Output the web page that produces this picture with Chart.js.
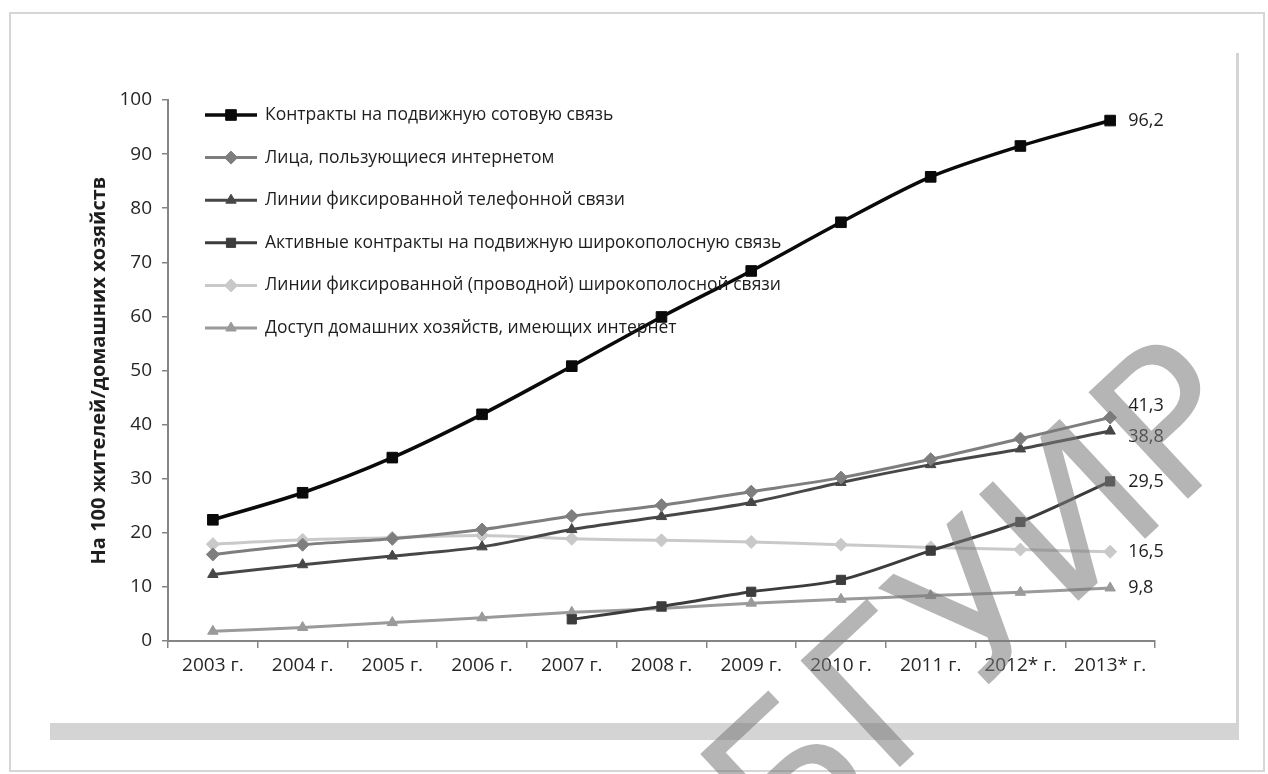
<!DOCTYPE html>
<html lang="ru">
<head>
<meta charset="utf-8">
<title>Развитие ИКТ, 2003–2013 гг.</title>
<script src="https://cdn.jsdelivr.net/npm/chart.js@4.4.1/dist/chart.umd.min.js"></script>
<style>
  html, body { margin: 0; padding: 0; background: #fff; }
  #wrap { width: 1268px; height: 774px; position: relative; }
</style>
</head>
<body>
<div id="wrap"><canvas id="ictChart" width="1268" height="774"></canvas></div>
<script>
// Years on the x axis
var years = ['2003 г.', '2004 г.', '2005 г.', '2006 г.', '2007 г.', '2008 г.',
             '2009 г.', '2010 г.', '2011 г.', '2012* г.', '2013* г.'];

// Values per 100 inhabitants / households
var mobileCell       = [22.4, 27.4, 33.9, 41.9, 50.8, 59.9, 68.4, 77.4, 85.8, 91.5, 96.2];
var internetUsers    = [16.0, 17.8, 18.9, 20.6, 23.1, 25.1, 27.6, 30.2, 33.6, 37.4, 41.3];
var fixedPhone       = [12.3, 14.1, 15.7, 17.4, 20.6, 23.0, 25.6, 29.3, 32.6, 35.5, 38.8];
var mobileBroadband  = [null, null, null, null, 4.0, 6.4, 9.1, 11.3, 16.7, 22.0, 29.5];
var fixedBroadband   = [17.9, 18.7, 19.1, 19.5, 18.9, 18.6, 18.3, 17.8, 17.3, 16.9, 16.5];
var householdsOnline = [1.8, 2.5, 3.4, 4.3, 5.3, 6.0, 7.0, 7.7, 8.4, 9.0, 9.8];

var yTicks = [0, 10, 20, 30, 40, 50, 60, 70, 80, 90, 100];

var FONT = "'Open Sans', 'DejaVu Sans', sans-serif";

function series(label, data, color, width, style, radius, labelShift) {
    return {
        label: label,
        data: data,
        borderColor: color,
        backgroundColor: color,
        pointBackgroundColor: color,
        pointBorderColor: color,
        borderWidth: width,
        pointStyle: style,
        pointRadius: radius,
        pointBorderWidth: 1,
        tension: 0.3,
        spanGaps: false,
        labelShift: labelShift
    };
}

// page frame: outer border, right edge line and the grey strip below the chart
var framePlugin = {
    id: 'frame',
    beforeDraw: function (chart) {
        var ctx = chart.ctx;
        ctx.save();
        ctx.fillStyle = '#ffffff';
        ctx.fillRect(0, 0, chart.width, chart.height);
        ctx.strokeStyle = '#d6d6d6';
        ctx.lineWidth = 2;
        ctx.strokeRect(10, 13, 1254, 758);
        ctx.fillStyle = '#d4d4d4';
        ctx.fillRect(50, 723, 1189, 17);
        ctx.fillRect(1236, 53, 3, 687);
        ctx.restore();
    }
};

// legend drawn inside the plot, line + marker + text
var innerLegend = {
    id: 'innerLegend',
    afterDatasetsDraw: function (chart) {
        var ctx = chart.ctx;
        var area = chart.chartArea;
        var x0 = area.left + 37;
        var y0 = area.top + 15;
        ctx.save();
        chart.data.datasets.forEach(function (ds, i) {
            var y = y0 + i * 42.6;
            ctx.strokeStyle = ds.borderColor;
            ctx.lineWidth = ds.borderWidth;
            ctx.beginPath();
            ctx.moveTo(x0, y);
            ctx.lineTo(x0 + 52, y);
            ctx.stroke();
            ctx.fillStyle = ds.borderColor;
            ctx.lineWidth = 1;
            Chart.helpers.drawPoint(ctx, {
                pointStyle: ds.pointStyle, radius: ds.pointRadius, rotation: 0, borderWidth: 1
            }, x0 + 26, y);
            ctx.fillStyle = '#1e1e1e';
            ctx.font = '17.5px ' + FONT;
            ctx.textBaseline = 'middle';
            ctx.textAlign = 'left';
            ctx.fillText(ds.label, x0 + 60, y);
        });
        ctx.restore();
    }
};

// value of the last point written to the right of each line
var endLabels = {
    id: 'endLabels',
    afterDatasetsDraw: function (chart) {
        var ctx = chart.ctx;
        ctx.save();
        ctx.fillStyle = '#1e1e1e';
        ctx.font = '18px ' + FONT;
        ctx.textBaseline = 'middle';
        ctx.textAlign = 'left';
        chart.data.datasets.forEach(function (ds, i) {
            var meta = chart.getDatasetMeta(i);
            var last = ds.data.length - 1;
            var pt = meta.data[last];
            var txt = ds.data[last].toFixed(1).replace('.', ',');
            ctx.fillText(txt, pt.x + 18, pt.y + (ds.labelShift || 0));
        });
        ctx.restore();
    }
};

var watermark = {
    id: 'watermark',
    afterDraw: function (chart) {
        var ctx = chart.ctx;
        ctx.save();
        ctx.translate(988, 614);
        ctx.rotate(-43 * Math.PI / 180);
        ctx.font = "200px 'DejaVu Sans', sans-serif";
        ctx.fillStyle = 'rgba(120,120,120,0.55)';
        ctx.textAlign = 'center';
        ctx.textBaseline = 'middle';
        ctx.fillText('БГУИР', 0, 0);
        ctx.restore();
    }
};

var ctx = document.getElementById('ictChart').getContext('2d');

var ictChart = new Chart(ctx, {
    type: 'line',
    data: {
        labels: years,
        datasets: [
            series('Контракты на подвижную сотовую связь', mobileCell, '#0a0a0a', 3.5, 'rect', 7.5, 0),
            series('Лица, пользующиеся интернетом', internetUsers, '#7e7e7e', 3, 'rectRot', 6.5, -12),
            series('Линии фиксированной телефонной связи', fixedPhone, '#474747', 3, 'triangle', 6, 6),
            series('Активные контракты на подвижную широкополосную связь', mobileBroadband, '#3c3c3c', 3, 'rect', 6.5, 0),
            series('Линии фиксированной (проводной) широкополосной связи', fixedBroadband, '#c9c9c9', 3, 'rectRot', 6.5, 0),
            series('Доступ домашних хозяйств, имеющих интернет', householdsOnline, '#9a9a9a', 3, 'triangle', 6, 0)
        ]
    },
    options: {
        responsive: false,
        animation: false,
        devicePixelRatio: 1,
        layout: { padding: { left: 83, top: 100, right: 113, bottom: 88 } },
        plugins: {
            legend: { display: false },
            tooltip: { enabled: false }
        },
        scales: {
            x: {
                offset: true,
                grid: { display: true, drawOnChartArea: false, drawTicks: true, tickLength: 7,
                        color: '#858585', lineWidth: 1.5, offset: true },
                border: { color: '#858585', width: 2 },
                ticks: { color: '#262626', font: { family: FONT, size: 19 }, padding: 6,
                         maxRotation: 0, autoSkip: false },
                afterFit: function (scale) { scale.height = 45; }
            },
            y: {
                min: 0,
                max: 100,
                afterBuildTicks: function (scale) {
                    scale.ticks = yTicks.map(function (v) { return { value: v }; });
                },
                grid: { display: true, drawOnChartArea: false, drawTicks: true, tickLength: 6,
                        color: '#858585', lineWidth: 1.5 },
                border: { color: '#858585', width: 2 },
                ticks: { color: '#262626', font: { family: FONT, size: 19 }, padding: 10 },
                title: {
                    display: true,
                    text: 'На 100 жителей/домашних хозяйств',
                    color: '#1e1e1e',
                    font: { family: FONT, size: 20, weight: 'bold' }
                },
                afterFit: function (scale) { scale.width = 85; }
            }
        }
    },
    plugins: [framePlugin, innerLegend, endLabels, watermark]
});
</script>
</body>
</html>
